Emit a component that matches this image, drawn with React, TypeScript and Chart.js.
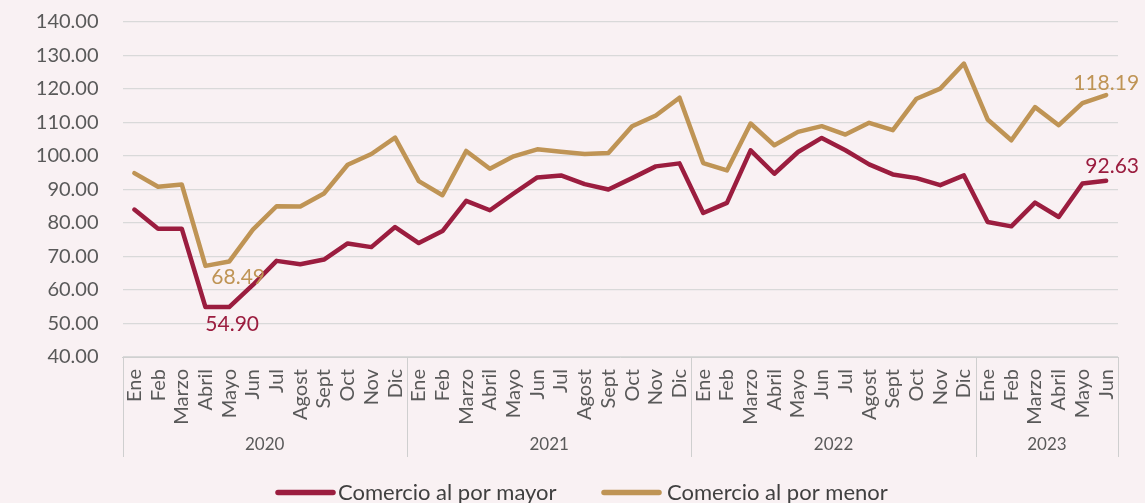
import React, { useEffect, useRef } from "react";
import { Chart, registerables } from "chart.js";

Chart.register(...registerables);

const monthNames = ["Ene", "Feb", "Marzo", "Abril", "Mayo", "Jun", "Jul", "Agost", "Sept", "Oct", "Nov", "Dic"];
const years = ["2020", "2021", "2022", "2023"];
const monthsPerYear = [12, 12, 12, 6];

const categories: string[] = [];
monthsPerYear.forEach((n) => {
  for (let i = 0; i < n; i++) categories.push(monthNames[i]);
});

const mayor = [
  84.0, 78.3, 78.3, 54.9, 54.9, 61.5, 68.7, 67.7, 69.1, 73.9, 72.8, 78.8,
  74.0, 77.6, 86.6, 83.8, 88.8, 93.6, 94.2, 91.6, 90.0, 93.4, 96.9, 97.8,
  83.0, 86.0, 101.7, 94.7, 101.2, 105.4, 101.7, 97.5, 94.5, 93.4, 91.3, 94.2,
  80.3, 79.0, 86.1, 81.8, 91.8, 92.63,
];

const menor = [
  94.9, 90.8, 91.5, 67.2, 68.49, 78.0, 85.0, 84.9, 88.8, 97.4, 100.6, 105.5,
  92.5, 88.3, 101.5, 96.2, 99.9, 102.0, 101.3, 100.6, 100.9, 108.9, 112.1, 117.4,
  97.9, 95.7, 109.7, 103.2, 107.2, 108.9, 106.4, 109.9, 107.7, 117.1, 120.1, 127.6,
  110.9, 104.7, 114.6, 109.2, 115.8, 118.19,
];

const seriesNames = ["Comercio al por mayor", "Comercio al por menor"];

// indices of points that carry a value label
const labelledMayor = [4, 41];
const labelledMenor = [4, 41];

const RED = "#9b1d3f";
const GOLD = "#bf9455";
const FONT = "Lato, 'Open Sans', sans-serif";

export default function App() {
  const ref = useRef<HTMLCanvasElement | null>(null);

  useEffect(() => {
    if (!ref.current) return;

    const labelOffsets: Record<string, [number, number]> = {
      "0-4": [3, 17],
      "0-41": [6, -14],
      "1-4": [9, 16],
      "1-41": [0, -12],
    };

    const extras = {
      id: "extras",
      beforeDraw(chart: any) {
        const { ctx, width, height } = chart;
        ctx.save();
        ctx.fillStyle = "#f9f1f3";
        ctx.fillRect(0, 0, width, height);
        ctx.restore();
      },
      afterDatasetsDraw(chart: any) {
        const { ctx } = chart;
        ctx.save();
        ctx.font = `21px ${FONT}`;
        ctx.textAlign = "center";
        ctx.textBaseline = "middle";
        const lists = [labelledMayor, labelledMenor];
        chart.data.datasets.forEach((ds: any, di: number) => {
          const meta = chart.getDatasetMeta(di);
          lists[di].forEach((idx) => {
            const pt = meta.data[idx];
            const v = ds.data[idx] as number;
            const off = labelOffsets[`${di}-${idx}`] || [0, -12];
            ctx.fillStyle = ds.borderColor;
            ctx.fillText(v.toFixed(2), pt.x + off[0], pt.y + off[1]);
          });
        });
        ctx.restore();
      },
      afterDraw(chart: any) {
        const { ctx, chartArea } = chart;
        const x = chart.scales.x;
        const half = (x.getPixelForValue(1) - x.getPixelForValue(0)) / 2;
        ctx.save();
        // year separators and labels
        ctx.strokeStyle = "#cfcfcf";
        ctx.lineWidth = 1;
        let start = 0;
        const bounds: number[] = [x.getPixelForValue(0) - half];
        monthsPerYear.forEach((n) => {
          start += n;
          bounds.push(x.getPixelForValue(start - 1) + half);
        });
        bounds.forEach((bx) => {
          ctx.beginPath();
          ctx.moveTo(Math.round(bx) + 0.5, chartArea.bottom);
          ctx.lineTo(Math.round(bx) + 0.5, chartArea.bottom + 100);
          ctx.stroke();
        });
        ctx.fillStyle = "#595959";
        ctx.font = `17px ${FONT}`;
        ctx.textAlign = "center";
        ctx.textBaseline = "middle";
        years.forEach((yr, i) => {
          ctx.fillText(yr, (bounds[i] + bounds[i + 1]) / 2, chartArea.bottom + 88);
        });

        // legend
        const legendY = 492.5;
        const items = [
          { x0: 278, x1: 333, tx: 338, color: RED, text: seriesNames[0] },
          { x0: 604, x1: 659, tx: 667, color: GOLD, text: seriesNames[1] },
        ];
        ctx.font = `22px ${FONT}`;
        ctx.textAlign = "left";
        items.forEach((it) => {
          ctx.strokeStyle = it.color;
          ctx.lineWidth = 5.5;
          ctx.lineCap = "round";
          ctx.beginPath();
          ctx.moveTo(it.x0, legendY);
          ctx.lineTo(it.x1, legendY);
          ctx.stroke();
          ctx.fillStyle = "#404040";
          ctx.fillText(it.text, it.tx, legendY);
        });
        ctx.restore();
      },
    };

    const chart = new Chart(ref.current, {
      type: "line",
      data: {
        labels: categories,
        datasets: [
          {
            label: seriesNames[0],
            data: mayor,
            borderColor: RED,
            backgroundColor: RED,
            borderWidth: 4.5,
            pointRadius: 0,
            tension: 0,
            borderJoinStyle: "round",
            borderCapStyle: "round",
          },
          {
            label: seriesNames[1],
            data: menor,
            borderColor: GOLD,
            backgroundColor: GOLD,
            borderWidth: 4.5,
            pointRadius: 0,
            tension: 0,
            borderJoinStyle: "round",
            borderCapStyle: "round",
          },
        ],
      },
      options: {
        animation: false,
        responsive: true,
        maintainAspectRatio: false,
        layout: { padding: { top: 22, right: 27, left: 0, bottom: 0 } },
        plugins: {
          legend: { display: false },
          tooltip: { enabled: false },
        },
        scales: {
          x: {
            type: "category",
            offset: true,
            grid: { display: false, drawTicks: false },
            border: { display: true, color: "#d0d0d0", width: 1 },
            ticks: {
              autoSkip: false,
              minRotation: 90,
              maxRotation: 90,
              padding: 12,
              color: "#595959",
              font: { family: FONT, size: 20 },
            },
            afterFit(scale: any) {
              scale.height = 146;
              scale.paddingLeft = 0;
              scale.paddingRight = 0;
            },
          },
          y: {
            min: 40,
            max: 140,
            ticks: {
              stepSize: 10,
              padding: 24,
              color: "#595959",
              font: { family: FONT, size: 20 },
              callback: (v: any) => Number(v).toFixed(2),
            },
            grid: { color: "#d9d9d9", lineWidth: 1.2, drawTicks: false },
            border: { display: false },
            afterFit(scale: any) {
              scale.width = 122.5;
              scale.paddingTop = 0;
              scale.paddingBottom = 0;
            },
          },
        },
      },
      plugins: [extras],
    });

    return () => chart.destroy();
  }, []);

  return (
    <div style={{ position: "fixed", left: 0, top: 0, width: 1145, height: 503 }}>
      <canvas ref={ref} />
    </div>
  );
}
